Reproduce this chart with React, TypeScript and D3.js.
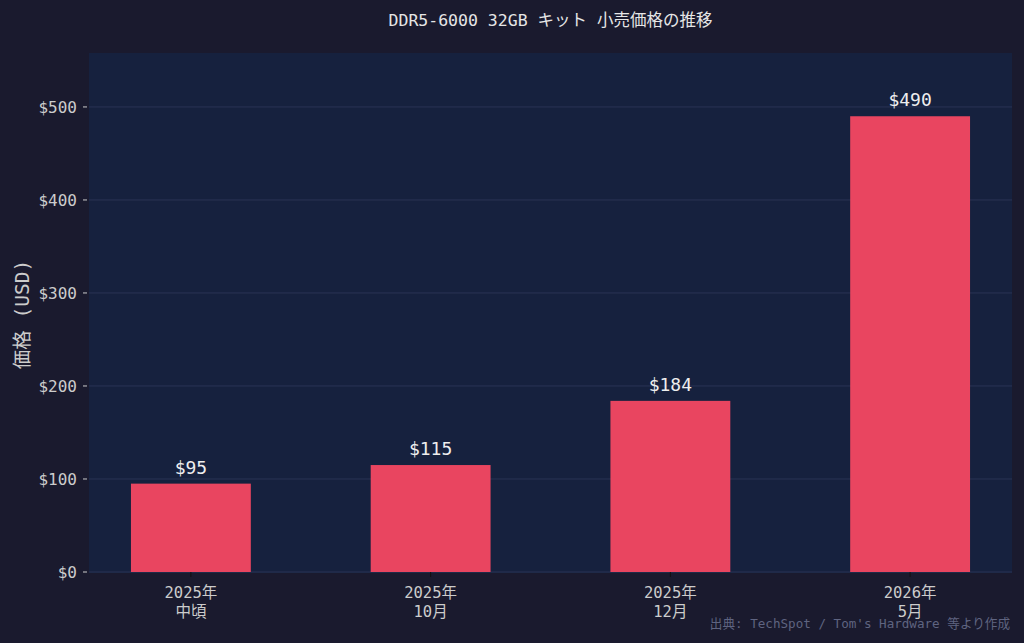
import * as d3 from 'd3';
import { useEffect, useRef } from 'react';

const categories = ['2025年\n中頃', '2025年\n10月', '2025年\n12月', '2026年\n5月'];
const prices = [95, 115, 184, 490];
const yTicks = [0, 100, 200, 300, 400, 500];

const FONT = '"DejaVu Sans Mono", "Noto Sans CJK JP", monospace';

export default function App() {
  const svgRef = useRef<SVGSVGElement>(null);

  useEffect(() => {
    if (!svgRef.current) return;
    const width = 1024;
    const height = 643;
    const margin = { top: 53, right: 12, bottom: 71, left: 89 };

    const svg = d3.select(svgRef.current);
    svg.selectAll('*').remove();

    svg.append('rect').attr('width', width).attr('height', height).attr('fill', '#1a1a2e');

    const x = d3.scaleLinear()
      .domain([-0.425, categories.length - 1 + 0.425])
      .range([margin.left, width - margin.right]);
    const y = d3.scaleLinear()
      .domain([0, 558])
      .range([height - margin.bottom, margin.top]);

    // plot area
    svg.append('rect')
      .attr('x', margin.left)
      .attr('y', margin.top)
      .attr('width', width - margin.left - margin.right)
      .attr('height', height - margin.top - margin.bottom)
      .attr('fill', '#16213e');

    // grid
    svg.append('g')
      .selectAll('line')
      .data(yTicks)
      .enter()
      .append('line')
      .attr('x1', margin.left)
      .attr('x2', width - margin.right)
      .attr('y1', (d) => y(d))
      .attr('y2', (d) => y(d))
      .attr('stroke', '#2a3355')
      .attr('stroke-width', 1);

    // bars
    const bw = 0.5;
    svg.append('g')
      .selectAll('rect')
      .data(prices)
      .enter()
      .append('rect')
      .attr('x', (_, i) => x(i - bw / 2))
      .attr('width', (_, i) => x(i + bw / 2) - x(i - bw / 2))
      .attr('y', (d) => y(d))
      .attr('height', (d) => y(0) - y(d))
      .attr('fill', '#e94560');

    // value labels
    svg.append('g')
      .selectAll('text')
      .data(prices)
      .enter()
      .append('text')
      .attr('x', (_, i) => x(i))
      .attr('y', (d) => y(d) - 10)
      .attr('text-anchor', 'middle')
      .attr('fill', '#eeeeee')
      .attr('font-family', FONT)
      .attr('font-size', 18)
      .text((d) => `$${d}`);

    // bottom spine
    svg.append('line')
      .attr('x1', margin.left)
      .attr('x2', width - margin.right)
      .attr('y1', y(0) + 0.5)
      .attr('y2', y(0) + 0.5)
      .attr('stroke', '#1f2a48');

    // y axis ticks + labels
    const yAxis = svg.append('g');
    yTicks.forEach((t) => {
      yAxis.append('line')
        .attr('x1', margin.left - 6)
        .attr('x2', margin.left - 2)
        .attr('y1', y(t))
        .attr('y2', y(t))
        .attr('stroke', '#cccccc');
      yAxis.append('text')
        .attr('x', margin.left - 12)
        .attr('y', y(t))
        .attr('dy', '0.35em')
        .attr('text-anchor', 'end')
        .attr('fill', '#cccccc')
        .attr('font-family', FONT)
        .attr('font-size', 16)
        .text(`$${t}`);
    });

    // x axis ticks + labels
    const xAxis = svg.append('g');
    categories.forEach((c, i) => {
      xAxis.append('line')
        .attr('x1', x(i))
        .attr('x2', x(i))
        .attr('y1', y(0))
        .attr('y2', y(0) + 5)
        .attr('stroke', '#111');
      const lines = c.split('\n');
      const t = xAxis.append('text')
        .attr('text-anchor', 'middle')
        .attr('fill', '#cccccc')
        .attr('font-family', FONT)
        .attr('font-size', 15.5);
      lines.forEach((l, j) => {
        t.append('tspan')
          .attr('x', x(i))
          .attr('y', y(0) + 26 + j * 19)
          .text(l);
      });
    });

    // y label
    svg.append('text')
      .attr('transform', `translate(29, ${(margin.top + height - margin.bottom) / 2 + 2}) rotate(-90)`)
      .attr('text-anchor', 'middle')
      .attr('fill', '#cccccc')
      .attr('font-family', FONT)
      .attr('font-size', 19.5)
      .text('価格 (USD)');

    // title
    svg.append('text')
      .attr('x', (margin.left + width - margin.right) / 2)
      .attr('y', 26)
      .attr('text-anchor', 'middle')
      .attr('fill', '#e6e6e6')
      .attr('font-family', FONT)
      .attr('font-size', 16.5)
      .text('DDR5-6000 32GB キット 小売価格の推移');

    // source
    svg.append('text')
      .attr('x', 1010)
      .attr('y', 628)
      .attr('text-anchor', 'end')
      .attr('fill', '#5f6480')
      .attr('font-family', FONT)
      .attr('font-size', 12.6)
      .text('出典: TechSpot / Tom\'s Hardware 等より作成');
  }, []);

  return (
    <svg
      ref={svgRef}
      width={1024}
      height={643}
      style={{ position: 'absolute', left: 0, top: 0, display: 'block' }}
    />
  );
}
